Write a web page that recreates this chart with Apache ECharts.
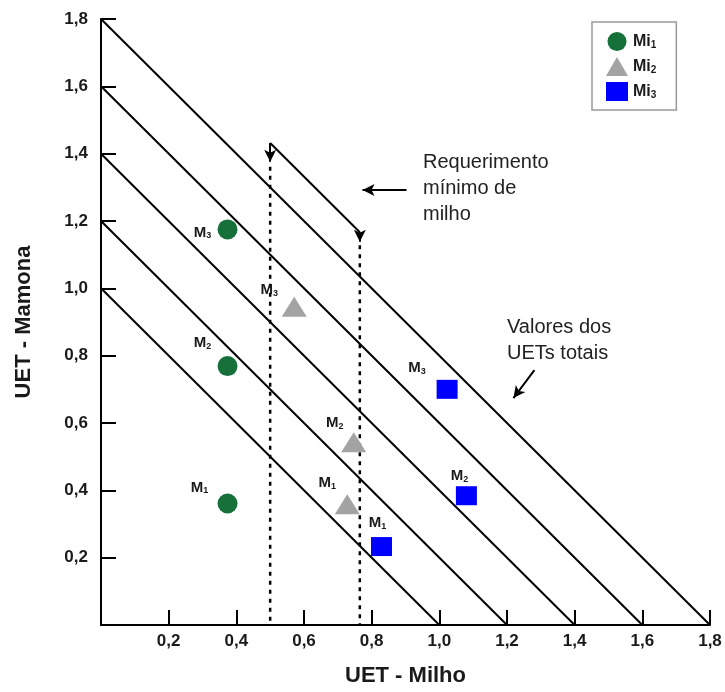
<!DOCTYPE html>
<html>
<head>
<meta charset="utf-8">
<script src="https://cdn.jsdelivr.net/npm/echarts@6/dist/echarts.min.js"></script>
<style>
  html, body { margin: 0; padding: 0; background: #ffffff; }
  #chart { width: 725px; height: 692px; }
</style>
</head>
<body>
<div id="chart"></div>
<script>
// Tick labels shared by both axes (0 is left blank)
const tickLabels = ['', '0,2', '0,4', '0,6', '0,8', '1,0', '1,2', '1,4', '1,6', '1,8'];

// Total UET iso-lines: UET milho + UET mamona = total
const isoTotals = [1.0, 1.2, 1.4, 1.6, 1.8];

// Minimum maize requirement (UET - Milho) and where each dotted guide starts
const minMilho = [0.5, 0.765];
const guideTop = [1.361, 1.128];

// Points per maize arrangement [UET milho, UET mamona]; order M1, M2, M3
const seriesNames = ['Mi1', 'Mi2', 'Mi3'];
const mi1 = [[0.374, 0.361], [0.374, 0.769], [0.374, 1.175]];
const mi2 = [[0.728, 0.359], [0.747, 0.543], [0.571, 0.945]];
const mi3 = [[0.829, 0.233], [1.080, 0.384], [1.023, 0.700]];
const pointSubscripts = ['1', '2', '3'];

// Label placement (pixels from the marker centre), order M1, M2, M3
const labelOffsets = {
  Mi1: [[-28, -16], [-25, -23], [-25, 3]],
  Mi2: [[-20, -21], [-19, -19], [-25, -17]],
  Mi3: [[-4, -24], [-7, -20], [-30, -21]]
};

const FONT = 'Liberation Sans, Arial, Helvetica, sans-serif';
const INK = '#1a1a1a';

const chart = echarts.init(document.getElementById('chart'), null, { renderer: 'canvas' });

function tickText(v) {
  const i = Math.round(v / 0.2);
  return tickLabels[i] !== undefined ? tickLabels[i] : '';
}

function axisBase(name) {
  return {
    type: 'value',
    min: 0,
    max: 1.8,
    interval: 0.2,
    name: name,
    nameLocation: 'middle',
    nameTextStyle: { fontFamily: FONT, fontWeight: 'bold', fontSize: 22, color: INK },
    axisLine: { show: true, onZero: false, lineStyle: { color: '#000', width: 2 } },
    axisTick: { show: true, inside: true, length: 15, lineStyle: { color: '#000', width: 2 } },
    splitLine: { show: false },
    axisLabel: {
      formatter: tickText,
      fontFamily: FONT, fontWeight: 'bold', fontSize: 17, color: INK,
      showMinLabel: true, showMaxLabel: true
    }
  };
}

const xAxis = axisBase('UET - Milho');
xAxis.nameGap = 40;
xAxis.axisLabel.margin = 8;

const yAxis = axisBase('UET - Mamona');
yAxis.nameGap = 66;
yAxis.nameRotate = 90;
yAxis.axisLabel.margin = 13;

const series = [];

// Iso-lines of total UET
isoTotals.forEach(function (t) {
  series.push({
    type: 'line',
    name: 'UET total ' + t,
    data: [[0, t], [t, 0]],
    symbol: 'none',
    silent: true,
    lineStyle: { color: '#000', width: 2 },
    z: 2
  });
});

// Dotted guides for the minimum maize requirement
minMilho.forEach(function (x, i) {
  series.push({
    type: 'line',
    name: 'req ' + x,
    data: [[x, guideTop[i]], [x, 0]],
    symbol: 'none',
    silent: true,
    lineStyle: { color: '#000', width: 2.5, type: [4, 5] },
    z: 2
  });
});

// Bracket over the guides and annotation arrows
const bracketTop = 1.4315;
const bracketEnd = bracketTop - (minMilho[1] - minMilho[0]);
series.push({
  type: 'line',
  name: 'annotations',
  data: [],
  silent: true,
  markLine: {
    silent: true,
    animation: false,
    symbol: ['none', 'arrow'],
    symbolSize: [9, 12],
    label: { show: false },
    emphasis: { disabled: true },
    lineStyle: { color: '#000', width: 2, type: 'solid' },
    data: [
      [{ coord: [minMilho[0], bracketTop] }, { coord: [minMilho[0], 1.376] }],
      [{ coord: [minMilho[0], bracketTop], symbol: 'none' }, { coord: [minMilho[1], bracketEnd], symbol: 'none' }],
      [{ coord: [minMilho[1], bracketEnd] }, { coord: [minMilho[1], 1.138] }],
      [{ coord: [0.903, 1.292] }, { coord: [0.773, 1.292] }],
      [{ coord: [1.281, 0.757] }, { coord: [1.219, 0.674] }]
    ]
  },
  z: 3
});

const markerStyles = {
  Mi1: { symbol: 'circle', size: 20, color: '#16703a' },
  Mi2: { symbol: 'triangle', size: [25, 20], color: '#a3a3a3' },
  Mi3: { symbol: 'rect', size: [21, 19], color: '#0000ff' }
};
const pointSets = { Mi1: mi1, Mi2: mi2, Mi3: mi3 };

seriesNames.forEach(function (name) {
  const st = markerStyles[name];
  series.push({
    type: 'scatter',
    name: name,
    symbol: st.symbol,
    symbolSize: st.size,
    itemStyle: { color: st.color, opacity: 1 },
    data: pointSets[name].map(function (p, i) {
      return { value: p, label: { offset: labelOffsets[name][i] } };
    }),
    label: {
      show: true,
      position: 'inside',
      align: 'center',
      verticalAlign: 'middle',
      formatter: function (p) { return '{m|M}{s|' + pointSubscripts[p.dataIndex] + '}'; },
      rich: {
        m: { fontFamily: FONT, fontWeight: 'bold', fontSize: 15, color: INK, lineHeight: 16 },
        s: { fontFamily: FONT, fontWeight: 'bold', fontSize: 9, color: INK, lineHeight: 9, verticalAlign: 'bottom' }
      }
    },
    emphasis: { disabled: true },
    z: 5
  });
});

const option = {
  animation: false,
  backgroundColor: '#ffffff',
  grid: { left: 101, right: 15, top: 19, bottom: 67, containLabel: false, outerBoundsMode: 'none' },
  xAxis: xAxis,
  yAxis: yAxis,
  legend: {
    orient: 'vertical',
    left: 592,
    top: 22,
    padding: [10, 20, 9, 14],
    itemGap: 6,
    itemWidth: 22,
    itemHeight: 19,
    borderColor: '#9a9a9a',
    borderWidth: 1.5,
    borderRadius: 0,
    selectedMode: false,
    data: [
      { name: 'Mi1', icon: 'circle' },
      { name: 'Mi2', icon: 'triangle' },
      { name: 'Mi3', icon: 'rect' }
    ],
    formatter: function (n) { return '{m|Mi}{s|' + n.slice(2) + '}'; },
    textStyle: {
      rich: {
        m: { fontFamily: FONT, fontWeight: 'bold', fontSize: 16, color: INK, lineHeight: 18 },
        s: { fontFamily: FONT, fontWeight: 'bold', fontSize: 10, color: INK, lineHeight: 10, verticalAlign: 'bottom' }
      }
    }
  },
  graphic: [
    {
      type: 'text',
      left: 423,
      top: 149,
      silent: true,
      style: {
        text: 'Requerimento\nmínimo de\nmilho',
        fontFamily: FONT, fontSize: 20, lineHeight: 26, fill: '#222'
      }
    },
    {
      type: 'text',
      left: 507,
      top: 314,
      silent: true,
      style: {
        text: 'Valores dos\nUETs totais',
        fontFamily: FONT, fontSize: 20, lineHeight: 26, fill: '#222'
      }
    }
  ],
  series: series
};

chart.setOption(option);
</script>
</body>
</html>
